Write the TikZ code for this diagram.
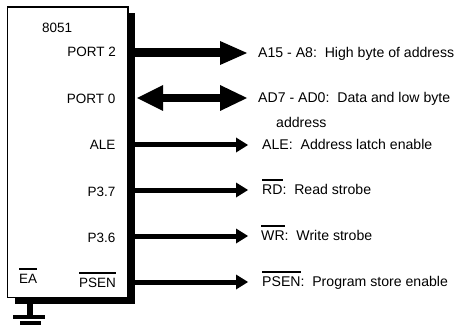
\documentclass[tikz,border=0pt]{standalone}
\usepackage{fontspec}
\setmainfont{Liberation Sans}
\usetikzlibrary{arrows.meta}
% text with a bar over it (active-low signal names)
\newcommand\ovl[1]{\vbox{\hrule height 1.8pt\kern 4.2pt\hbox{#1}}}
\begin{document}
\begin{tikzpicture}[x=1pt,y=-1pt,
  txt/.style={font=\fontsize{13.5}{16}\selectfont, inner sep=0pt,
              text height=9.7pt, text depth=0pt},
  pin/.style={txt},
  sig/.style={txt, font=\fontsize{14.1}{16}\selectfont, anchor=west},
  bus/.style={line width=9pt, -{Triangle[length=27pt,width=24pt,line width=0pt]}},
  busboth/.style={line width=8pt,
     {Triangle[length=26pt,width=26pt,line width=0pt]}-{Triangle[length=27pt,width=26pt,line width=0pt]}},
  wire/.style={line width=5pt, -{Triangle[length=12pt,width=15pt,line width=0pt]}},
  boxsize/.style={minimum width=120.5pt, minimum height=290.5pt, inner sep=0pt}
]
\useasboundingbox (0,0) rectangle (455,326);

% shadow behind the chip
\node[boxsize, fill=black, draw=none] (shade) at (74.75,158.25) {};

% signal descriptions
\node[sig] (la15) at (258,53)  {A15 - A8:\ \ High byte of address};
\node[sig] (lad)  at (258,98)  {AD7 - AD0:\ \ Data and low byte};
\node[sig] (ladr) at (276,123) {address};
\node[sig] (lale) at (262,145) {ALE:\ \ Address latch enable};
\node[sig] (lrd)  at (262,190) {\ovl{RD}:\ \ Read strobe};
\node[sig] (lwr)  at (261,236) {\ovl{WR}:\ \ Write strobe};
\node[sig] (lps)  at (262,282) {\ovl{PSEN}:\ \ Program store enable};

% buses and control lines
\draw[bus]     (shade.east |- la15.west) -- ([xshift=-11pt]la15.west);
\draw[busboth] ([xshift=2pt]shade.east |- lad.west) -- ([xshift=-11pt]lad.west);
\draw[wire]    (shade.east |- lale.west) -- ([xshift=-14pt]lale.west);
\draw[wire]    (shade.east |- lrd.west)  -- ([xshift=-14pt]lrd.west);
\draw[wire]    (shade.east |- lwr.west)  -- ([xshift=-13pt]lwr.west);
\draw[wire]    (shade.east |- lps.west)  -- ([xshift=-14pt]lps.west);

% the chip
\node[boxsize, fill=white, draw=black, line width=1.2pt] (chip) at (67.75,152.25) {};

\node[pin, anchor=west] (n8051) at (42,28)    {8051};
\node[pin, anchor=east] (pp2)   at (116,52)   {PORT 2};
\node[pin, anchor=east] (pp0)   at (115.5,99) {PORT 0};
\node[pin, anchor=east] (pale)  at (115.5,145) {ALE};
\node[pin, anchor=east] (p37)   at (115.5,192) {P3.7};
\node[pin, anchor=east] (p36)   at (115.5,238) {P3.6};
\node[pin, anchor=east] (ppsen) at (116,283)  {\ovl{PSEN}};
\node[pin, anchor=west] (pea)   at (19,278.5) {\ovl{EA}};

% ground
\coordinate (gtop) at (30,303);
\coordinate (gbot) at (30,316);
\draw[line width=5.5pt] (gtop) -- (gbot);
\fill (13,315) rectangle (45,318.5);
\fill (20,321.3) rectangle (41,325);
\end{tikzpicture}
\end{document}
